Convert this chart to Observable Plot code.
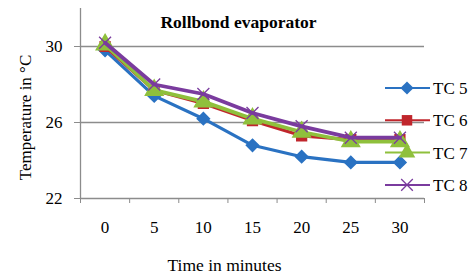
<!DOCTYPE html>
<html>
<head>
<meta charset="utf-8">
<script src="https://cdn.jsdelivr.net/npm/d3@7"></script>
<script src="https://cdn.jsdelivr.net/npm/@observablehq/plot@0.6"></script>
<style>
  html, body { margin: 0; padding: 0; background: #fff; }
  #chart { width: 475px; height: 275px; }
  svg { display: block; }
</style>
</head>
<body>
<div id="chart"></div>
<script>
const times = [0, 5, 10, 15, 20, 25, 30];
const seriesNames = ["TC 5", "TC 6", "TC 7", "TC 8"];
const tc5 = [29.8, 27.4, 26.2, 24.8, 24.2, 23.9, 23.9];
const tc6 = [30.0, 27.7, 27.0, 26.1, 25.3, 25.1, 25.1];
const tc7 = [30.1, 27.7, 27.1, 26.2, 25.5, 25.0, 25.0];
const tc8 = [30.2, 28.0, 27.5, 26.5, 25.8, 25.2, 25.2];
const yTicks = [22, 26, 30];
const colors = ["#2A72C2", "#C0262C", "#8FC03C", "#7A3B9E"];
const symbols = ["diamond2", "square", "triangle", "times"];

const values = [tc5, tc6, tc7, tc8];
const series = seriesNames.map((name, i) => ({
  name, color: colors[i], symbol: symbols[i],
  data: times.map((t, j) => ({ t, v: values[i][j] }))
}));
const boundaries = times.map(t => t - 2.5).concat([times[times.length - 1] + 2.5]);

const font = "'Liberation Serif', 'Times New Roman', serif";
const lineW = [3.2, 3.2, 3.8, 3.8];
const dotR = [5.5, 5.5, 6.5, 5.5];

const marks = [
  Plot.ruleY([26, 30], { stroke: "#8c8c8c", strokeWidth: 1.3 }),
  Plot.ruleY([22], { stroke: "#8c8c8c", strokeWidth: 1.3 }),
  Plot.ruleX([boundaries[0]], { stroke: "#8c8c8c", strokeWidth: 1.3 }),
  Plot.axisY({ ticks: yTicks, tickSize: 6, tickPadding: 12, label: null, stroke: "#8c8c8c", fontSize: 17 }),
  Plot.axisX({ ticks: boundaries, tickSize: 5, tickFormat: () => "", label: null, stroke: "#8c8c8c" }),
  Plot.axisX({ ticks: times, tickSize: 0, tickPadding: 22, label: null, fontSize: 17 }),
];
series.forEach((s, i) => {
  marks.push(Plot.line(s.data, { x: "t", y: "v", stroke: s.color, strokeWidth: lineW[i] }));
  if (s.symbol === "times") {
    marks.push(Plot.dot(s.data, { x: "t", y: "v", symbol: "times", stroke: s.color, strokeWidth: 1.3, r: dotR[i] }));
  } else {
    marks.push(Plot.dot(s.data, { x: "t", y: "v", symbol: s.symbol, fill: s.color, stroke: s.color, r: dotR[i] }));
  }
});
marks.push(
  Plot.text(["Rollbond evaporator"], { frameAnchor: "top", dy: 7, dx: -14, fontWeight: "bold", fontSize: 17.5, fill: "#000", textAnchor: "middle" }),
  Plot.text(["Time in minutes"], { frameAnchor: "bottom", dy: 72, dx: -28, fontSize: 17.5, fill: "#000", textAnchor: "middle" }),
  Plot.text(["Temperature in °C"], { frameAnchor: "left", rotate: -90, dx: -55, dy: 14, fontSize: 17, fill: "#000", textAnchor: "middle" })
);

const chart = Plot.plot({
  width: 475,
  height: 275,
  marginLeft: 80,
  marginRight: 51,
  marginTop: 8,
  marginBottom: 77,
  style: { fontFamily: font, color: "#000", background: "#fff", overflow: "visible" },
  x: { type: "linear", domain: [boundaries[0], boundaries[boundaries.length - 1]] },
  y: { domain: [22, 32] },
  marks
});

// legend
const svg = d3.select(chart);
const lg = svg.append("g").style("font-family", font).style("font-size", "17px").attr("text-anchor", "start");
series.forEach((s, i) => {
  const y = 88 + i * 32.3;
  const g = lg.append("g").attr("transform", `translate(0,${y})`);
  g.append("line").attr("x1", 385).attr("x2", 430).attr("y1", 0).attr("y2", 0)
    .attr("stroke", s.color).attr("stroke-width", 2);
  const sym = d3.symbol().type({
    diamond2: d3.symbolDiamond2, square: d3.symbolSquare, triangle: d3.symbolTriangle, times: d3.symbolTimes
  }[s.symbol]).size([110, 110, 120, 90][i]);
  const p = g.append("path").attr("d", sym()).attr("transform", "translate(407,0)");
  if (s.symbol === "times") p.attr("fill", "none").attr("stroke", s.color).attr("stroke-width", 1.3);
  else p.attr("fill", s.color);
  g.append("text").attr("x", 433).attr("y", 0).attr("dy", "0.35em").attr("fill", "#000")
    .style("font-family", font).style("font-size", "17px").attr("text-anchor", "start").text(s.name);
});

document.getElementById("chart").appendChild(chart);
</script>
</body>
</html>
